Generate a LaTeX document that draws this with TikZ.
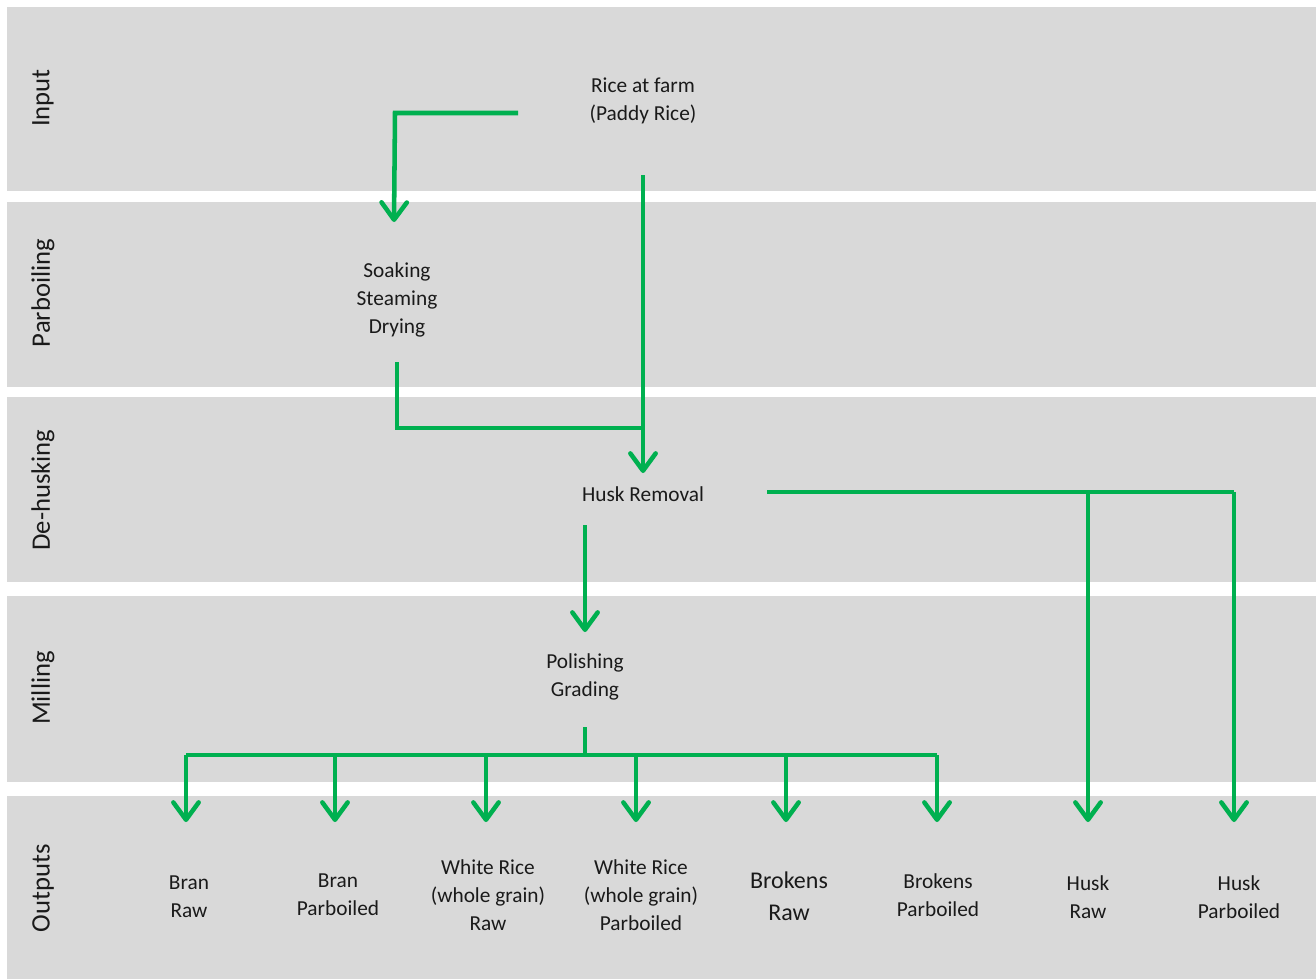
\documentclass[tikz,border=0pt]{standalone}
\usepackage{fontspec}
\setmainfont{Carlito}
\usetikzlibrary{arrows.meta}
\definecolor{bandgray}{HTML}{D9D9D9}
\definecolor{flowgreen}{HTML}{00B050}
\definecolor{textdark}{HTML}{1A1A1A}
\tikzset{
  band/.style={fill=bandgray, draw=none},
  bandlabel/.style={rotate=90, text=textdark, font=\fontsize{20}{24}\selectfont},
  stage/.style={align=center, text=textdark, font=\fontsize{16}{21}\selectfont},
  flow/.style={draw=flowgreen, line width=3.4pt},
  flowarrow/.style={flow, -{Straight Barb[length=13pt,width=19pt,round]}}
}
\begin{document}
\begin{tikzpicture}[x=0.75pt,y=-0.75pt]
\useasboundingbox (0,0) rectangle (1316,979);

% BANDS
\fill[band] (7,7)   rectangle (1316,191);
\fill[band] (7,202) rectangle (1316,387);
\fill[band] (7,397) rectangle (1316,582);
\fill[band] (7,596) rectangle (1316,782);
\fill[band] (7,796) rectangle (1316,979);

\node[bandlabel] (lin)   at (43,98)  {Input};
\node[bandlabel] (lpar)  at (43,293) {Parboiling};
\node[bandlabel] (ldeh)  at (43,490) {De-husking};
\node[bandlabel] (lmill) at (43,688) {Milling};
\node[bandlabel] (lout)  at (43,888) {Outputs};

% STAGES
\node[stage] (farm)    at (643,101) {Rice at farm\\(Paddy Rice)};
\node[stage] (parboil) at (397,300) {Soaking\\Steaming\\Drying};
\node[stage] (husk)    at (643,494) {Husk Removal};
\node[stage] (polish)  at (585,677) {Polishing\\Grading};

% OUTPUTS
\node[stage] (branraw)  at (189,897) {Bran\\Raw};
\node[stage] (branpar)  at (338,895) {Bran\\Parboiled};
\node[stage] (whiteraw) at (488,895) {White Rice\\(whole grain)\\Raw};
\node[stage] (whitepar) at (641,895) {White Rice\\(whole grain)\\Parboiled};
\node[stage, font=\fontsize{18}{24}\selectfont] (brokraw) at (789,896) {Brokens\\Raw};
\node[stage] (brokpar)  at (938,895) {Brokens\\Parboiled};
\node[stage] (huskraw)  at (1088,897) {Husk\\Raw};
\node[stage] (huskpar)  at (1239,897) {Husk\\Parboiled};

% JOINTS
\coordinate (farm-w)     at (518,113);
\coordinate (farm-wc)    at (395,113);
\coordinate (parboil-in) at (394,222);
\coordinate (farm-s)     at (643,175);
\coordinate (husk-in)    at (643,473);
\coordinate (parboil-s)  at (397,362);
\coordinate (parboil-sc) at (397,428);
\coordinate (merge)      at (643,428);
\coordinate (husk-s)     at (585,525);
\coordinate (polish-in)  at (585,632);
\coordinate (polish-s)   at (585,727);
\coordinate (bus)        at (585,755);
\coordinate (bus-l)      at (186,755);
\coordinate (bus-r)      at (937,755);
\coordinate (husk-e)     at (767,492);
\coordinate (huskbus-m)  at (1088,492);
\coordinate (huskbus-r)  at (1234,492);

% ARROWS
\draw[flowarrow] (farm-w) -- (farm-wc) -- (parboil-in);
\draw[flowarrow] (farm-s) -- (husk-in);
\draw[flow] (parboil-s) -- (parboil-sc) -- (merge);
\draw[flowarrow] (husk-s) -- (polish-in);
\draw[flow] (polish-s) -- (bus);
\draw[flow] (bus-l) -- (bus-r);
\foreach \n/\x in {branraw/186, branpar/335, whiteraw/486, whitepar/636, brokraw/786, brokpar/937}{
  \coordinate (\n-top) at (\x,755);
  \coordinate (\n-in)  at (\x,822);
  \draw[flowarrow] (\n-top) -- (\n-in);
}
\draw[flow] (husk-e) -- (huskbus-r);
\coordinate (huskraw-in) at (1088,822);
\coordinate (huskpar-in) at (1234,822);
\draw[flowarrow] (huskbus-m) -- (huskraw-in);
\draw[flowarrow] (huskbus-r) -- (huskpar-in);

\end{tikzpicture}
\end{document}
